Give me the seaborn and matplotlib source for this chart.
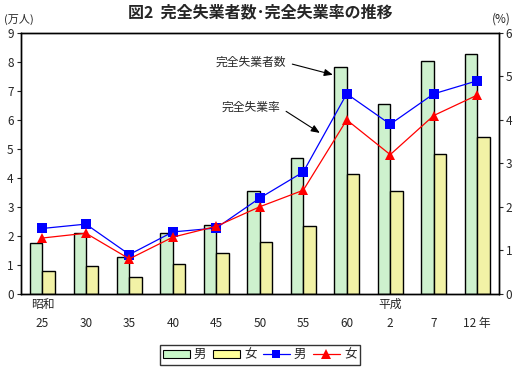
import matplotlib
matplotlib.use("Agg")
import matplotlib.pyplot as plt
import seaborn as sns
import pandas as pd
from matplotlib.patches import Patch
from matplotlib.lines import Line2D

years = ["25", "30", "35", "40", "45", "50", "55", "60", "2", "7", "12"]
tick_labels = ["昭和\n25", "\n30", "\n35", "\n40", "\n45", "\n50", "\n55", "\n60", "平成\n2", "\n7", "\n12 年"]
male_count = [1.75, 2.1, 1.27, 2.1, 2.38, 3.55, 4.7, 7.81, 6.56, 8.02, 8.29]
female_count = [0.78, 0.96, 0.58, 1.03, 1.41, 1.79, 2.34, 4.14, 3.55, 4.83, 5.4]
male_rate = [1.5, 1.6, 0.9, 1.42, 1.51, 2.2, 2.8, 4.6, 3.9, 4.6, 4.9]
female_rate = [1.28, 1.39, 0.8, 1.3, 1.55, 2.0, 2.38, 4.0, 3.2, 4.1, 4.57]

sns.set_theme(style="white")
plt.rcParams['font.family'] = ['Noto Sans CJK JP', 'DejaVu Sans']

GREEN = "#c8f7c8"
YELLOW = "#ffff99"

bars = pd.DataFrame({
    "year": years * 2,
    "count": male_count + female_count,
    "sex": ["男"] * len(years) + ["女"] * len(years),
})
rates = pd.DataFrame({
    "pos": list(range(len(years))) * 2,
    "rate": male_rate + female_rate,
    "sex": ["男"] * len(years) + ["女"] * len(years),
})

fig = plt.figure(figsize=(5.17, 3.67), dpi=100)
ax = fig.add_axes([0.040, 0.200, 0.925, 0.710])

sns.barplot(data=bars, x="year", y="count", hue="sex", order=years,
            palette={"男": GREEN, "女": YELLOW}, width=0.57,
            edgecolor="black", linewidth=1.0, ax=ax, legend=False)
ax.set_ylim(0, 9)
ax.set_xlim(-0.5, len(years) - 0.5)
ax.set_yticks(range(0, 10))
ax.set_xticks(range(len(years)))
ax.set_xticklabels(tick_labels, fontsize=8.5, linespacing=1.6)
ax.set_xlabel("")
ax.set_ylabel("")
ax.tick_params(axis="y", direction="out", length=3, width=0.8, labelsize=8.5, pad=2, left=True)
ax.tick_params(axis="x", length=0, labelsize=8.5, pad=3)
for sp in ax.spines.values():
    sp.set_color("black")
    sp.set_linewidth(1.0)

ax2 = ax.twinx()
sns.lineplot(data=rates, x="pos", y="rate", hue="sex", style="sex",
             markers={"男": "s", "女": "^"}, dashes=False,
             palette={"男": "#0000ff", "女": "#ff0000"}, linewidth=0.9,
             markersize=7, markeredgewidth=0, ax=ax2, legend=False)
ax2.set_ylim(0, 6)
ax2.set_yticks(range(0, 7))
ax2.set_ylabel("")
ax2.set_xlabel("")
ax2.tick_params(axis="y", direction="out", length=3, width=0.8, labelsize=8.5, pad=2, right=True)
for sp in ax2.spines.values():
    sp.set_color("black")
    sp.set_linewidth(1.0)
ax2.set_xlim(-0.5, len(years) - 0.5)

fig.text(0.503, 0.966, "図2  完全失業者数･完全失業率の推移", ha="center", va="center",
         fontsize=11.5, fontweight="bold")
fig.text(0.008, 0.948, "(万人)", ha="left", va="center", fontsize=8)
fig.text(0.988, 0.948, "(%)", ha="right", va="center", fontsize=8.5)

arrow = dict(arrowstyle="-|>,head_length=0.6,head_width=0.25", color="black", lw=0.8,
             relpos=(1.0, 0.5), shrinkA=2, shrinkB=0)
ax.annotate("完全失業者数", xy=(6.68, 7.56), xytext=(4.8, 7.98), ha="center", va="center",
            fontsize=8.5, arrowprops=arrow)
ax.annotate("完全失業率", xy=(6.38, 5.55), xytext=(4.8, 6.42), ha="center", va="center",
            fontsize=8.5, arrowprops=arrow)

handles = [
    Patch(facecolor=GREEN, edgecolor="black", linewidth=0.8),
    Patch(facecolor=YELLOW, edgecolor="black", linewidth=0.8),
    Line2D([0], [0], color="#0000ff", lw=0.9, marker="s", markersize=6, markeredgewidth=0),
    Line2D([0], [0], color="#ff0000", lw=0.9, marker="^", markersize=7, markeredgewidth=0),
]
leg = fig.legend(handles, ["男", "女", "男", "女"], ncol=4, loc="center",
                 bbox_to_anchor=(0.502, 0.033), fontsize=9, frameon=True, fancybox=False,
                 handlelength=2.2, handletextpad=0.3, columnspacing=0.5, borderpad=0.25,
                 handleheight=0.7)
leg.get_frame().set_edgecolor("black")
leg.get_frame().set_linewidth(1.0)

fig.savefig("out.png", dpi=100)
